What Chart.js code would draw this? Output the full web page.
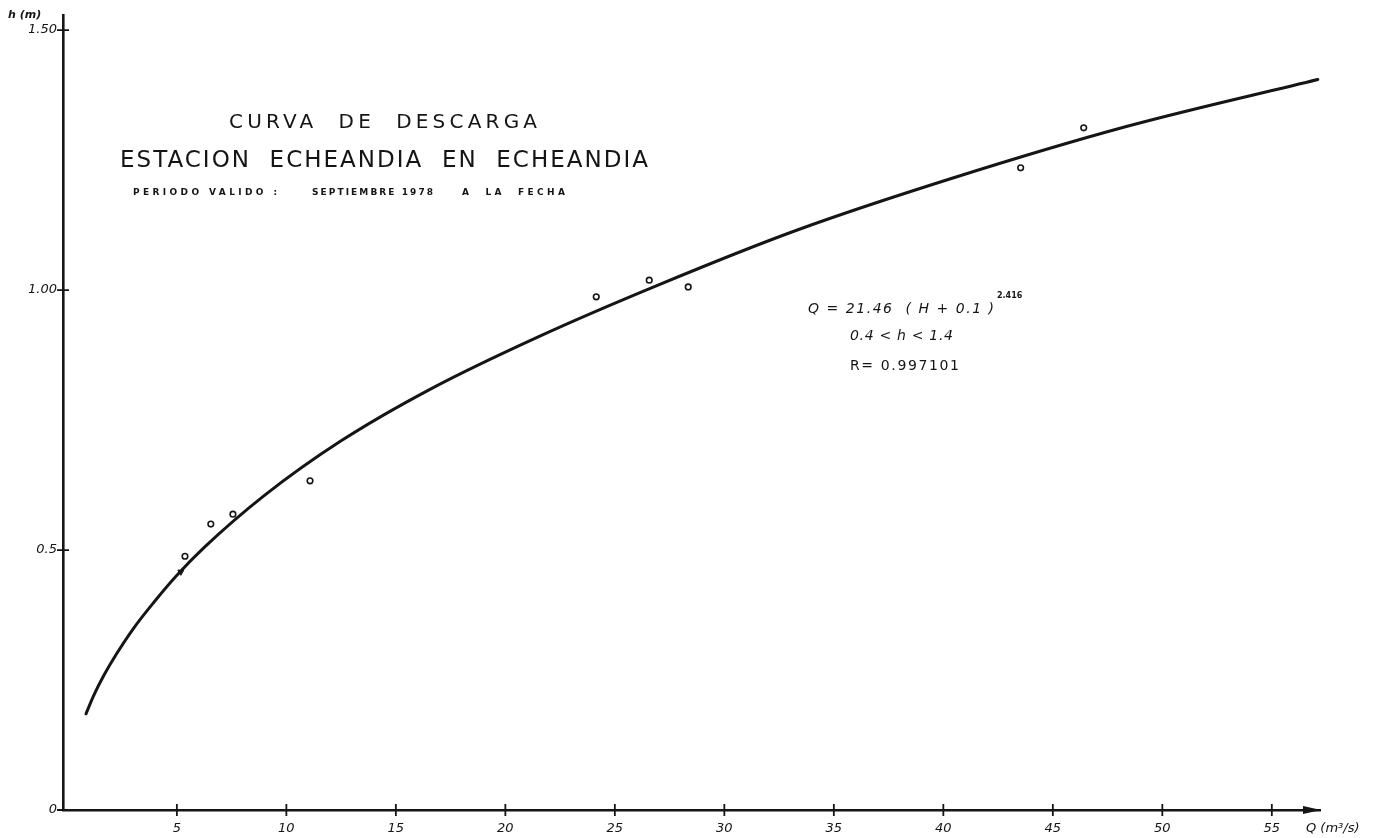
<!DOCTYPE html>
<html>
<head>
<meta charset="utf-8">
<title>Curva de descarga – Estación Echeandia en Echeandia</title>
<script src="https://cdn.jsdelivr.net/npm/chart.js@4/dist/chart.umd.min.js"></script>
<style>
  html, body { margin: 0; padding: 0; background: #ffffff; }
  #wrap { width: 1378px; height: 838px; }
</style>
</head>
<body>
<div id="wrap"><canvas id="c" width="1378" height="838"></canvas></div>
<script>
// Rating curve h (m) against discharge Q (m3/s)
const qCurve = [0.85, 1.20, 1.68, 2.24, 3.03, 3.96, 4.97, 6.25, 9.0, 12.5, 16.6, 21.5, 27.0, 33.3, 40.4, 48.4, 57.1];
const hCurve = [0.185, 0.22, 0.26, 0.30, 0.35, 0.40, 0.45, 0.505, 0.605, 0.71, 0.81, 0.91, 1.01, 1.115, 1.215, 1.315, 1.405];

// Gauged measurements
const qMeasured = [5.37, 6.55, 7.56, 11.08, 24.15, 26.57, 28.35, 43.53, 46.41];
const hMeasured = [0.488, 0.550, 0.569, 0.633, 0.987, 1.019, 1.006, 1.235, 1.312];

// Single filled mark on the curve
const qMarked = [5.18];
const hMarked = [0.458];

// Axis ticks
const qTicks = [5, 10, 15, 20, 25, 30, 35, 40, 45, 50, 55];
const hTicks = [0, 0.5, 1.0, 1.5];
const hTickLabels = ['0', '0.5', '1.00', '1.50'];

const INK = '#151515';

function pairs(xs, ys) { return xs.map((x, i) => ({ x: x, y: ys[i] })); }

// Text stretched between two x positions by letter spacing
function spacedText(ctx, text, x0, x1, y, font) {
  ctx.save();
  ctx.font = font;
  ctx.letterSpacing = '0px';
  const w = ctx.measureText(text).width;
  const n = Array.from(text).length;
  const ls = n > 1 ? Math.max(0, (x1 - x0 - w) / (n - 1)) : 0;
  ctx.letterSpacing = ls.toFixed(2) + 'px';
  ctx.textAlign = 'left';
  ctx.textBaseline = 'middle';
  ctx.fillStyle = INK;
  ctx.fillText(text, x0, y);
  ctx.restore();
}

// Tick marks crossing the axes and the arrow head of the Q axis
const axisMarks = {
  id: 'axisMarks',
  afterDatasetsDraw(chart) {
    const { ctx, chartArea, scales } = chart;
    const xs = scales.x, ys = scales.y;
    ctx.save();
    ctx.strokeStyle = INK;
    ctx.lineWidth = 1.8;
    ctx.beginPath();
    xs.ticks.forEach(t => {
      const px = xs.getPixelForValue(t.value);
      ctx.moveTo(px, chartArea.bottom - 6);
      ctx.lineTo(px, chartArea.bottom + 6);
    });
    ys.ticks.forEach(t => {
      const py = ys.getPixelForValue(t.value);
      ctx.moveTo(chartArea.left - 6, py);
      ctx.lineTo(chartArea.left + 6, py);
    });
    ctx.stroke();
    // arrow head
    ctx.fillStyle = INK;
    ctx.beginPath();
    ctx.moveTo(chartArea.right - 17, chartArea.bottom - 4);
    ctx.lineTo(chartArea.right + 1, chartArea.bottom);
    ctx.lineTo(chartArea.right - 17, chartArea.bottom + 4);
    ctx.closePath();
    ctx.fill();
    ctx.restore();
  }
};

// Headings, axis names and the fitted equation
const annotations = {
  id: 'annotations',
  afterDraw(chart) {
    const ctx = chart.ctx;
    const ca = chart.chartArea;
    spacedText(ctx, 'CURVA  DE  DESCARGA', 229, 537, 123, '20px "DejaVu Sans"');
    spacedText(ctx, 'ESTACION  ECHEANDIA  EN  ECHEANDIA', 120, 648, 161, '23px "DejaVu Sans"');
    spacedText(ctx, 'PERIODO VALIDO :', 133, 277, 193, 'bold 9px "DejaVu Sans"');
    spacedText(ctx, 'SEPTIEMBRE 1978', 312, 433, 193, 'bold 9px "DejaVu Sans"');
    spacedText(ctx, 'A  LA  FECHA', 462, 565, 193, 'bold 9px "DejaVu Sans"');

    ctx.save();
    ctx.fillStyle = INK;
    ctx.textBaseline = 'middle';
    ctx.textAlign = 'left';
    // axis names
    ctx.font = 'italic bold 11px "DejaVu Sans"';
    ctx.fillText('h (m)', 8, 15);
    ctx.font = 'italic 13px "DejaVu Sans"';
    ctx.fillText('Q (m³/s)', ca.right - 14, 829);
    // exponent of the equation
    ctx.font = 'bold 8px "DejaVu Sans"';
    ctx.fillText('2.416', 997, 296);
    ctx.restore();

    // equation block
    spacedText(ctx, 'Q = 21.46  ( H + 0.1 )', 808, 994, 309, 'italic 14px "DejaVu Sans"');
    spacedText(ctx, '0.4 < h < 1.4', 850, 953, 336, 'italic 14px "DejaVu Sans"');
    spacedText(ctx, 'R= 0.997101', 850, 959, 366, '14px "DejaVu Sans"');
  }
};

new Chart(document.getElementById('c'), {
  type: 'scatter',
  data: {
    datasets: [
      {
        label: 'Curva',
        data: pairs(qCurve, hCurve),
        showLine: true,
        borderColor: INK,
        borderWidth: 3,
        pointRadius: 0,
        cubicInterpolationMode: 'monotone',
        borderCapStyle: 'round',
        order: 2
      },
      {
        label: 'Aforos',
        data: pairs(qMeasured, hMeasured),
        showLine: false,
        pointStyle: 'circle',
        pointRadius: 2.8,
        pointBorderWidth: 1.6,
        pointBorderColor: INK,
        pointBackgroundColor: '#ffffff',
        order: 1
      },
      {
        label: 'Marca',
        data: pairs(qMarked, hMarked),
        showLine: false,
        pointStyle: 'triangle',
        pointRadius: 3.5,
        pointBorderWidth: 1,
        pointBorderColor: INK,
        pointBackgroundColor: INK,
        pointRotation: 180,
        order: 0
      }
    ]
  },
  options: {
    responsive: false,
    animation: false,
    devicePixelRatio: 1,
    layout: { padding: { left: 29, right: 58, top: 15, bottom: 0 } },
    plugins: {
      legend: { display: false },
      tooltip: { enabled: false },
      title: { display: false }
    },
    scales: {
      x: {
        type: 'linear',
        min: -0.2,
        max: 57.2,
        afterBuildTicks(scale) { scale.ticks = qTicks.map(v => ({ value: v })); },
        afterFit(scale) { scale.height = 28; },
        grid: { display: false, drawTicks: false },
        border: { display: true, color: INK, width: 2.4 },
        ticks: {
          padding: 11,
          color: INK,
          font: { family: '"DejaVu Sans"', size: 13, style: 'italic' },
          callback: v => String(v),
          maxRotation: 0,
          autoSkip: false
        }
      },
      y: {
        type: 'linear',
        min: 0,
        max: 1.529,
        afterBuildTicks(scale) { scale.ticks = hTicks.map(v => ({ value: v })); },
        afterFit(scale) { scale.width = 34; },
        grid: { display: false, drawTicks: false },
        border: { display: true, color: INK, width: 2.6 },
        ticks: {
          padding: 6,
          color: INK,
          font: { family: '"DejaVu Sans"', size: 13, style: 'italic' },
          callback: v => hTickLabels[hTicks.indexOf(v)],
          autoSkip: false
        }
      }
    }
  },
  plugins: [axisMarks, annotations]
});
</script>
</body>
</html>
